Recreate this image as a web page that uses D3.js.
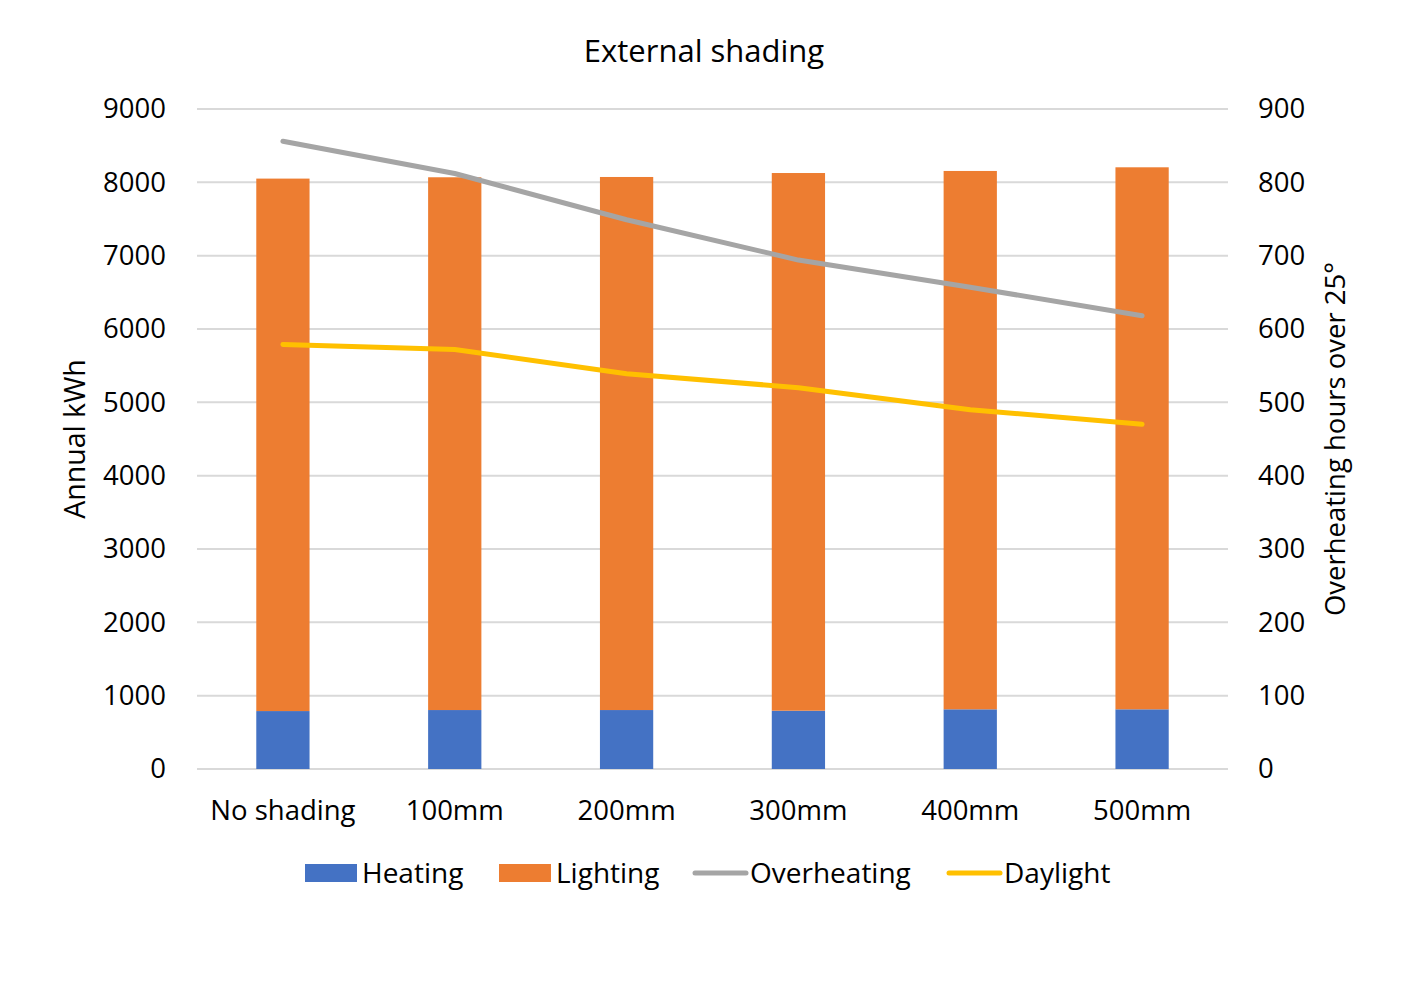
<!DOCTYPE html>
<html><head><meta charset="utf-8">
<script src="https://cdn.jsdelivr.net/npm/d3@7"></script>
<style>body{margin:0;background:#fff}svg{display:block}text{font-family:"Open Sans",sans-serif;fill:#000}</style>
</head><body>
<svg id="c" width="1424" height="982"></svg>
<script>
const categories = ["No shading","100mm","200mm","300mm","400mm","500mm"];
const heating = [790, 804, 804, 795, 814, 814];
const lighting = [7261, 7265, 7269, 7332, 7341, 7391];
const overheating = [856, 812, 749, 694, 657, 618];
const daylight = [579, 572, 539, 520, 490, 470];
const leftTicks = [0,1000,2000,3000,4000,5000,6000,7000,8000,9000];
const rightTicks = [0,100,200,300,400,500,600,700,800,900];

const svg = d3.select("#c");
const L = 197, R = 1228, T = 109, B = 769;
const FS = "27.5px";
const x = d3.scaleBand().domain(categories).range([L, R]).paddingInner(0.69).paddingOuter(0.345);
const y = d3.scaleLinear().domain([0, 9000]).range([B, T]);
const y2 = d3.scaleLinear().domain([0, 900]).range([B, T]);

// gridlines
svg.append("g").selectAll("line").data(leftTicks).join("line")
  .attr("x1", L).attr("x2", R).attr("y1", d => y(d)).attr("y2", d => y(d))
  .attr("stroke", "#d9d9d9").attr("stroke-width", 2);

// left axis labels
const ly = d3.axisLeft(y).tickValues(leftTicks).tickFormat(d3.format("d")).tickSize(0).tickPadding(31);
const gl = svg.append("g").attr("transform", `translate(${L},0)`).call(ly);
gl.select(".domain").remove();
gl.selectAll("text").style("font-size", FS).style("font-family", "'Open Sans'").attr("fill", "#000");

const ry = d3.axisRight(y2).tickValues(rightTicks).tickFormat(d3.format("d")).tickSize(0).tickPadding(30);
const gr = svg.append("g").attr("transform", `translate(${R},0)`).call(ry);
gr.select(".domain").remove();
gr.selectAll("text").style("font-size", FS).style("font-family", "'Open Sans'").attr("fill", "#000");

// bars
const bw = x.bandwidth();
svg.append("g").selectAll("rect").data(categories).join("rect")
  .attr("x", d => x(d)).attr("width", bw)
  .attr("y", (d, i) => y(heating[i])).attr("height", (d, i) => B - y(heating[i]))
  .attr("fill", "#4472C4");
svg.append("g").selectAll("rect").data(categories).join("rect")
  .attr("x", d => x(d)).attr("width", bw)
  .attr("y", (d, i) => y(heating[i] + lighting[i])).attr("height", (d, i) => y(heating[i]) - y(heating[i] + lighting[i]))
  .attr("fill", "#ED7D31");

// x axis labels
const xa = d3.axisBottom(x).tickSize(0).tickPadding(31);
const gx = svg.append("g").attr("transform", `translate(0,${B})`).call(xa);
gx.select(".domain").remove();
gx.selectAll("text").style("font-size", FS).style("font-family", "'Open Sans'").attr("fill", "#000");

// lines
const cx = d => x(d) + bw / 2;
const lineO = d3.line().x((d, i) => cx(categories[i])).y(d => y2(d));
svg.append("path").datum(overheating).attr("d", lineO).attr("fill", "none")
  .attr("stroke", "#A5A5A5").attr("stroke-width", 5).attr("stroke-linecap", "round").attr("stroke-linejoin", "round");
svg.append("path").datum(daylight).attr("d", lineO).attr("fill", "none")
  .attr("stroke", "#FFC000").attr("stroke-width", 5).attr("stroke-linecap", "round").attr("stroke-linejoin", "round");

// title
svg.append("text").attr("x", 704).attr("y", 62).attr("text-anchor", "middle").style("font-size", "31px").text("External shading");

// axis titles
svg.append("text").attr("transform", "translate(85,439) rotate(-90)").attr("text-anchor", "middle").style("font-size", "28.5px").text("Annual kWh");
svg.append("text").attr("transform", "translate(1345,439) rotate(-90)").attr("text-anchor", "middle").style("font-size", "27.5px").text("Overheating hours over 25°");

// legend
const legend = [
  {name: "Heating", type: "rect", color: "#4472C4", x: 305},
  {name: "Lighting", type: "rect", color: "#ED7D31", x: 499},
  {name: "Overheating", type: "line", color: "#A5A5A5", x: 693},
  {name: "Daylight", type: "line", color: "#FFC000", x: 947}
];
const lg = svg.append("g");
legend.forEach(d => {
  if (d.type === "rect") {
    lg.append("rect").attr("x", d.x).attr("y", 864).attr("width", 52).attr("height", 18).attr("fill", d.color);
  } else {
    lg.append("line").attr("x1", d.x + 2).attr("x2", d.x + 53).attr("y1", 873).attr("y2", 873)
      .attr("stroke", d.color).attr("stroke-width", 5).attr("stroke-linecap", "round");
  }
  lg.append("text").attr("x", d.x + 57).attr("y", 883).style("font-size", "28px").text(d.name);
});
</script>
</body></html>
